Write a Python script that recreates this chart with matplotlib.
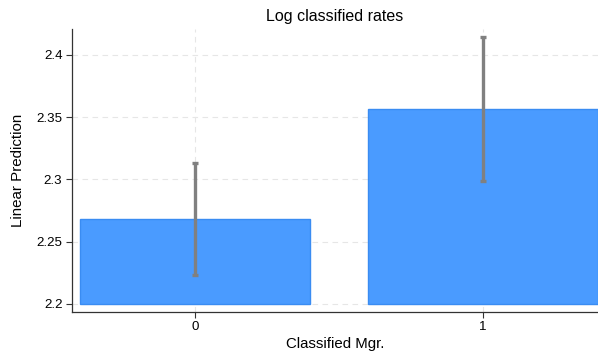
import matplotlib
matplotlib.use("Agg")
import matplotlib.pyplot as plt

categories = ["0", "1"]
predictions = [2.268, 2.3565]
ci_low = [2.2229, 2.299]
ci_high = [2.313, 2.4147]
yticks = [2.2, 2.25, 2.3, 2.35, 2.4]
ytick_labels = ["2.2", "2.25", "2.3", "2.35", "2.4"]

plt.rcParams['font.family'] = ['Liberation Sans', 'DejaVu Sans']
fig = plt.figure(figsize=(5.98, 3.56), dpi=100)
ax = fig.add_axes([0.1196, 0.1236, 0.8804, 0.7949])

base = 2.2
x = [0, 1]
heights = [p - base for p in predictions]
ax.bar(x, heights, bottom=base, width=0.797, color='#4A9BFF', edgecolor='#3A8CF2', linewidth=1.0, zorder=2)
yerr = [[p - l for p, l in zip(predictions, ci_low)], [h - p for p, h in zip(predictions, ci_high)]]
ax.errorbar(x, predictions, yerr=yerr, fmt='none', ecolor='#808080', elinewidth=2.4, capsize=2.4, capthick=2.4, zorder=3)

ax.set_xlim(-0.428, 1.40)
ax.set_ylim(2.1933, 2.4209)
ax.set_xticks(x)
ax.set_xticklabels(categories)
ax.set_yticks(yticks)
ax.set_yticklabels(ytick_labels)
ax.grid(True, color='#e6e6e6', linestyle=(0, (5, 4)), linewidth=0.8, zorder=0)
ax.set_axisbelow(True)
for s in ['top', 'right']:
    ax.spines[s].set_visible(False)
for s in ['left', 'bottom']:
    ax.spines[s].set_color('#333333')
    ax.spines[s].set_linewidth(0.9)
ax.tick_params(axis='both', labelsize=9.6, length=4, color='#333333', width=0.8, pad=2.5)
ax.set_title("Log classified rates", fontsize=11.5, pad=6)
ax.set_ylabel("Linear Prediction", fontsize=10.9, labelpad=8)
ax.set_xlabel("Classified Mgr.", fontsize=10.8, labelpad=3)
fig.savefig("out.png", dpi=100)
